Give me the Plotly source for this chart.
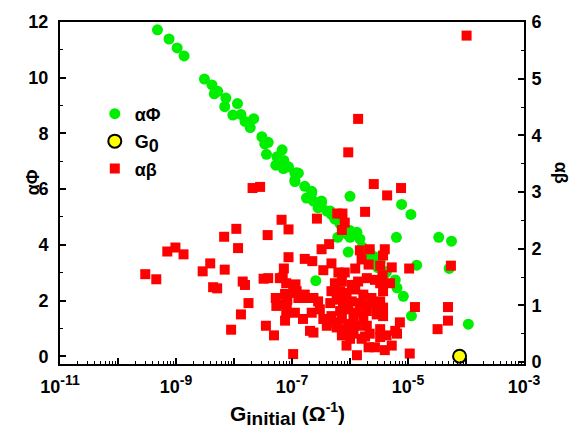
import plotly.graph_objects as go

# alpha*Phi versus initial conductance (log10 of G in S), left axis
phi_log_g = [-9.32, -9.12, -8.98, -8.86, -8.51, -8.38, -8.34, -8.28, -8.14, -8.16,
             -7.94, -8.02, -7.88, -7.81, -7.66, -7.72, -7.52, -7.47, -7.41, -7.17,
             -7.44, -7.26, -7.28, -7.15, -7.06, -6.95, -6.92, -6.95, -6.78, -6.66,
             -6.75, -6.63, -6.49, -6.55, -6.40, -6.32, -6.26, -6.17, -6.12, -6.06,
             -6.00, -5.88, -6.00, -6.21, -7.14, -7.09, -6.89, -6.95, -6.66, -6.49,
             -6.34, -6.17, -6.00, -5.91, -6.03, -5.83, -5.66, -5.57, -5.48, -5.37,
             -5.22, -5.19, -5.08, -4.94, -6.59, -5.20, -5.11, -4.95, -4.85, -4.47,
             -4.25, -4.29, -3.96, -5.79, -5.72, -5.62, -5.52, -5.40]
phi_values = [11.72, 11.39, 11.07, 10.78, 9.95, 9.74, 9.42, 9.51, 9.27, 8.96,
              9.07, 8.66, 8.68, 8.43, 8.53, 8.21, 7.88, 7.62, 7.68, 7.41,
              7.25, 7.16, 6.86, 6.74, 6.80, 6.57, 6.59, 6.27, 6.10, 5.92,
              5.68, 5.57, 5.51, 5.33, 5.21, 5.09, 4.92, 4.74, 4.56, 4.39,
              4.27, 4.45, 5.74, 4.27, 7.03, 6.80, 6.57, 6.33, 5.86, 5.57,
              5.21, 4.92, 4.51, 4.39, 3.74, 4.21, 3.74, 3.57, 3.39, 3.04,
              2.74, 2.45, 2.15, 1.45, 2.71, 4.27, 5.45, 5.09, 3.27, 4.27,
              4.13, 3.15, 1.15, 3.92, 3.60, 3.32, 3.18, 2.96]

# alpha*beta versus initial conductance, right axis
beta_log_g = [-3.99, -5.86, -6.03, -5.59, -5.36, -5.12, -5.74, -6.22, -6.13, -6.57,
              -7.18, -7.68, -7.55, -9.53, -9.34, -9.15, -9.01, -8.87, -8.54, -8.41,
              -8.36, -8.29, -8.17, -8.16, -8.05, -7.96, -7.93, -7.88, -7.85, -7.81,
              -7.75, -7.49, -7.41, -7.45, -7.42, -7.31, -7.28, -7.25, -7.21, -7.16,
              -7.14, -7.10, -7.10, -7.08, -7.06, -7.06, -6.78, -6.65, -6.36, -6.49,
              -6.09, -6.14, -6.32, -6.46, -6.20, -6.09, -5.91, -5.83, -5.66, -5.80,
              -5.68, -5.48, -5.43, -5.40, -5.28, -4.98, -5.44, -5.31, -5.43, -5.48,
              -5.57, -5.71, -5.86, -5.97, -6.14, -6.26, -6.32, -6.17, -6.06, -5.91,
              -5.77, -5.63, -5.48, -5.43, -5.54, -5.68, -5.83, -5.97, -6.12, -6.23,
              -6.34, -6.55, -6.63, -6.78, -6.92, -7.09, -6.95, -6.66, -6.52, -6.32,
              -6.17, -6.03, -5.88, -5.71, -5.54, -5.43, -6.40, -6.63, -6.14, -6.09,
              -6.14, -6.06, -5.94, -5.88, -5.80, -5.68, -5.57, -5.48, -5.40, -5.37,
              -5.28, -5.19, -5.22, -5.14, -4.88, -4.49, -4.31, -4.31, -4.26, -4.97,
              -6.98, -5.74, -6.00, -5.88, -5.71, -5.66, -5.48, -5.77, -5.94, -6.03,
              -6.23, -6.29, -6.46, -7.12, -6.98, -6.89, -6.75, -7.27, -7.12, -6.81,
              -6.69, -6.94]
beta_values = [5.76, 4.29, 3.70, 3.14, 2.94, 3.07, 2.65, 2.62, 2.62, 2.53,
               2.51, 3.07, 3.09, 1.55, 1.46, 1.95, 2.02, 1.90, 1.60, 1.74,
               1.32, 1.30, 2.21, 1.63, 0.57, 2.35, 2.01, 0.84, 1.42, 1.36,
               1.04, 1.47, 1.48, 0.64, 2.24, 0.47, 1.13, 1.02, 1.48, 1.49,
               1.65, 0.87, 1.39, 1.10, 1.85, 2.34, 1.82, 1.78, 2.08, 1.99,
               2.46, 2.33, 1.74, 1.62, 1.58, 1.58, 1.65, 1.97, 1.99, 1.81,
               1.72, 1.70, 1.88, 1.99, 1.67, 1.65, 1.53, 1.39, 1.25, 1.39,
               1.45, 1.48, 1.42, 1.36, 1.42, 1.39, 1.25, 1.25, 1.22, 1.28,
               1.19, 1.13, 1.07, 0.96, 0.96, 1.02, 1.04, 1.07, 1.07, 1.10,
               1.04, 1.07, 1.13, 1.19, 1.25, 1.04, 0.87, 0.87, 0.93, 0.81,
               0.90, 0.93, 0.87, 0.90, 0.84, 0.81, 0.64, 0.52, 0.76, 0.58,
               0.47, 0.29, 0.50, 0.12, 0.41, 0.26, 0.26, 0.44, 0.21, 0.47,
               0.29, 0.50, 0.55, 0.70, 0.97, 0.58, 0.97, 0.73, 1.70, 0.15,
               0.14, 0.45, 0.41, 0.64, 0.64, 0.50, 0.58, 0.78, 0.78, 0.67,
               0.61, 0.70, 0.76, 1.20, 1.22, 1.13, 1.13, 0.99, 0.73, 0.76,
               0.55, 1.37]

# conductance quantum
g0_value = [7.748e-5]
g0_phi = [0.0]

major_exp = list(range(-11, -2))
labeled_exp = [-11, -9, -7, -5, -3]

phi_g = [10 ** e for e in phi_log_g]
beta_g = [10 ** e for e in beta_log_g]

FONT = "Liberation Sans, Arial, sans-serif"
GREEN = "#00ee00"
RED = "#ff0000"

fig = go.Figure()
fig.add_trace(go.Scatter(
    x=phi_g, y=phi_values, mode="markers", name="αΦ", legendgroup="a",
    marker=dict(symbol="circle", size=11, color=GREEN, line=dict(width=0)),
))
fig.add_trace(go.Scatter(
    x=g0_value, y=g0_phi, mode="markers", legendgroup="b",
    name="G<sub><span style='font-size:18px'>0</span></sub>",
    marker=dict(symbol="circle", size=13, color="#ffff00",
                line=dict(width=2, color="black")),
))
fig.add_trace(go.Scatter(
    x=beta_g, y=beta_values, mode="markers", name="αβ", yaxis="y2", legendgroup="c",
    marker=dict(symbol="square", size=10, color=RED, line=dict(width=0)),
))

tick_font = dict(family=FONT, size=18, color="black", weight="bold")

major_vals = [10.0 ** e for e in major_exp]
major_text = [f"10<sup><span style='font-size:14px'>{e}</span></sup>" if e in labeled_exp else ""
              for e in major_exp]
minor_vals = [m * 10.0 ** e for e in range(-11, -3) for m in range(2, 10)]

fig.update_layout(
    width=572, height=439,
    paper_bgcolor="white", plot_bgcolor="white",
    margin=dict(l=60, r=48, t=16, b=75),
    font=dict(family=FONT, color="black", weight="bold"),
    showlegend=True,
    legend=dict(
        x=0.075, y=0.785, xanchor="left", yanchor="top",
        bgcolor="rgba(0,0,0,0)", borderwidth=0,
        font=dict(family=FONT, size=18, color="black", weight="bold"),
        itemsizing="trace", tracegroupgap=1,
    ),
    xaxis=dict(
        type="log", range=[-11, -3],
        tickmode="array", tickvals=major_vals, ticktext=major_text,
        ticks="inside", ticklen=6, tickwidth=1.6, tickcolor="black",
        minor=dict(tickmode="array", tickvals=minor_vals, ticks="inside",
                   ticklen=3, tickwidth=1.2, tickcolor="black", showgrid=False),
        showline=True, linewidth=2, linecolor="black", mirror=True,
        showgrid=False, zeroline=False, tickfont=tick_font,
        ticklabelstandoff=5,
    ),
    yaxis=dict(
        range=[-0.28, 12], tickmode="array", tickvals=[0, 2, 4, 6, 8, 10, 12],
        ticks="inside", ticklen=6, tickwidth=1.6, tickcolor="black",
        minor=dict(dtick=1, tick0=0, ticks="inside", ticklen=3, tickwidth=1.2,
                   tickcolor="black", showgrid=False),
        showline=True, linewidth=2, linecolor="black",
        showgrid=False, zeroline=False, tickfont=tick_font,
        ticklabelstandoff=6,
    ),
    yaxis2=dict(
        overlaying="y", side="right", range=[-0.035, 6.0],
        tickmode="array", tickvals=[0, 1, 2, 3, 4, 5, 6],
        ticks="inside", ticklen=6, tickwidth=1.6, tickcolor="black",
        minor=dict(dtick=0.5, tick0=0, ticks="inside", ticklen=3, tickwidth=1.2,
                   tickcolor="black", showgrid=False),
        showline=True, linewidth=2, linecolor="black",
        showgrid=False, zeroline=False, tickfont=tick_font,
        ticklabelstandoff=2,
    ),
    annotations=[
        dict(text="αΦ", xref="paper", yref="paper", x=-0.085, y=0.53,
             textangle=-90, showarrow=False,
             font=dict(family=FONT, size=18, color="black", weight="bold")),
        dict(text="αβ", xref="paper", yref="paper", x=1.105, y=0.56,
             textangle=90, showarrow=False,
             font=dict(family=FONT, size=18, color="black", weight="bold")),
        dict(text="G<sub><span style='font-size:19px'>initial</span></sub> "
                  "(Ω<sup><span style='font-size:14px'>-1</span></sup>)",
             xref="paper", yref="paper",
             x=0.49, y=-0.145, showarrow=False, yanchor="middle",
             font=dict(family=FONT, size=21, color="black", weight="bold")),
    ],
)

fig.write_html("out.html")
